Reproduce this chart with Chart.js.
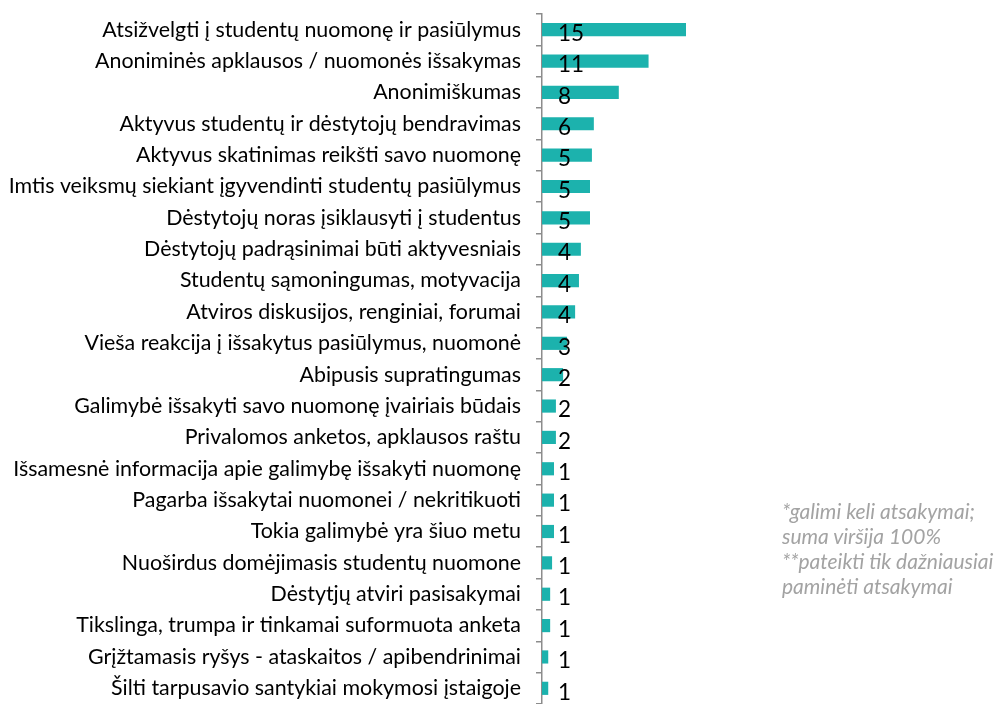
<!DOCTYPE html>
<html>
<head>
<meta charset="utf-8">
<script src="https://cdn.jsdelivr.net/npm/chart.js@4/dist/chart.umd.min.js"></script>
<style>
  html, body { margin: 0; padding: 0; background: #fff; }
  #wrap { position: relative; width: 998px; height: 704px; overflow: hidden; }
  #note { position: absolute; left: 782px; top: 498px; font-family: Lato, sans-serif; font-style: italic;
          font-size: 21px; line-height: 25px; color: #a3a3a3; white-space: nowrap; }
</style>
</head>
<body>
<div id="wrap">
  <canvas id="c" width="998" height="704"></canvas>
  <div id="note">*galimi keli atsakymai;<br>suma viršija 100%<br>**pateikti tik dažniausiai<br>paminėti atsakymai</div>
</div>
<script>
const categories = [
  "Atsižvelgti į studentų nuomonę ir pasiūlymus",
  "Anoniminės apklausos / nuomonės išsakymas",
  "Anonimiškumas",
  "Aktyvus studentų ir dėstytojų bendravimas",
  "Aktyvus skatinimas reikšti savo nuomonę",
  "Imtis veiksmų siekiant įgyvendinti studentų pasiūlymus",
  "Dėstytojų noras įsiklausyti į studentus",
  "Dėstytojų padrąsinimai būti aktyvesniais",
  "Studentų sąmoningumas, motyvacija",
  "Atviros diskusijos, renginiai, forumai",
  "Vieša reakcija į išsakytus pasiūlymus, nuomonė",
  "Abipusis supratingumas",
  "Galimybė išsakyti savo nuomonę įvairiais būdais",
  "Privalomos anketos, apklausos raštu",
  "Išsamesnė informacija apie galimybę išsakyti nuomonę",
  "Pagarba išsakytai nuomonei / nekritikuoti",
  "Tokia galimybė yra šiuo metu",
  "Nuoširdus domėjimasis studentų nuomone",
  "Dėstytjų atviri pasisakymai",
  "Tikslinga, trumpa ir tinkamai suformuota anketa",
  "Grįžtamasis ryšys - ataskaitos / apibendrinimai",
  "Šilti tarpusavio santykiai mokymosi įstaigoje"
];
// bar lengths
const barValues = [15, 11.1, 8.0, 5.4, 5.2, 5.0, 5.0, 4.05, 3.85, 3.45, 2.6, 2.2, 1.45, 1.45, 1.25, 1.25, 1.25, 1.05, 0.85, 0.85, 0.65, 0.65];
// numbers printed next to the bars
const shownLabels = [15, 11, 8, 6, 5, 5, 5, 4, 4, 4, 3, 2, 2, 2, 1, 1, 1, 1, 1, 1, 1, 1];

const barColor = '#1cb2ad';
const axisColor = '#8c8c8c';

const valueLabels = {
  id: 'valueLabels',
  afterDatasetsDraw(chart) {
    const ctx = chart.ctx;
    const meta = chart.getDatasetMeta(0);
    const left = chart.chartArea.left;
    ctx.save();
    ctx.font = '22.5px Lato, sans-serif';
    ctx.fillStyle = '#000';
    ctx.textAlign = 'left';
    ctx.textBaseline = 'middle';
    meta.data.forEach((bar, i) => {
      ctx.fillText(String(shownLabels[i]), left + 16, bar.y + 4);
    });
    ctx.restore();
  }
};

new Chart(document.getElementById('c'), {
  type: 'bar',
  data: {
    labels: categories,
    datasets: [{
      data: barValues,
      backgroundColor: barColor,
      borderWidth: 0,
      categoryPercentage: 1.0,
      barPercentage: 0.42
    }]
  },
  options: {
    indexAxis: 'y',
    responsive: false,
    animation: false,
    devicePixelRatio: 1,
    layout: { padding: { top: 14, right: 24, bottom: 0, left: 0 } },
    plugins: { legend: { display: false }, tooltip: { enabled: false } },
    scales: {
      x: { display: false, min: 0, max: 45 },
      y: {
        afterFit(scale) { scale.width = 542; scale.paddingTop = 0; scale.paddingBottom = 0; },
        border: { display: true, color: axisColor, width: 1.5 },
        grid: { drawOnChartArea: false, drawTicks: true, tickLength: 6, color: axisColor, lineWidth: 1.5, offset: true },
        ticks: { color: '#000', font: { family: 'Lato', size: 21.4 }, padding: 15, autoSkip: false }
      }
    }
  },
  plugins: [valueLabels]
});
</script>
</body>
</html>
